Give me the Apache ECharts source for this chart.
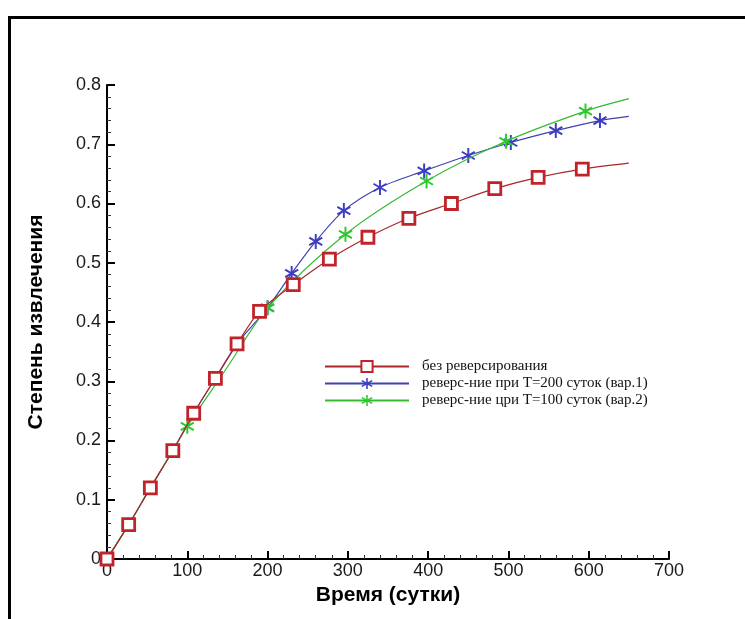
<!DOCTYPE html>
<html lang="ru">

<head>
    <meta charset="utf-8">
    <title>Степень извлечения</title>
    <style>
        html, body {
            margin: 0;
            padding: 0;
            background-color: #ffffff;
        }
    </style>
</head>

<body>
    <div id="main" style="width: 745px;height:619px;"></div>
    <script src="https://cdn.jsdelivr.net/npm/echarts@6/dist/echarts.min.js"></script>

    <script>
        // без реверсирования
        var redDays = [0, 27, 54, 82, 108, 135, 162, 190, 232, 277, 325, 376, 429, 483, 537, 592, 650];
        var redVals = [0, 0.058, 0.120, 0.183, 0.246, 0.305, 0.363, 0.418, 0.463, 0.506, 0.543, 0.575, 0.600, 0.625, 0.644, 0.658, 0.668];
        var redMark = [1, 1, 1, 1, 1, 1, 1, 1, 1, 1, 1, 1, 1, 1, 1, 1, 0];

        // реверс-ние при T=200 суток (вар.1)
        var blueDays = [0, 27, 54, 82, 108, 135, 162, 200, 230, 260, 295, 340, 395, 450, 503, 559, 614, 650];
        var blueVals = [0, 0.058, 0.120, 0.183, 0.246, 0.305, 0.363, 0.424, 0.482, 0.536, 0.588, 0.627, 0.655, 0.681, 0.703, 0.723, 0.740, 0.747];
        var blueMark = [0, 0, 0, 0, 0, 0, 0, 1, 1, 1, 1, 1, 1, 1, 1, 1, 1, 0];

        // реверс-ние при T=100 суток (вар.2)
        var greenDays = [0, 27, 54, 82, 100, 150, 200, 297, 398, 497, 596, 650];
        var greenVals = [0, 0.058, 0.120, 0.183, 0.224, 0.324, 0.424, 0.548, 0.638, 0.705, 0.756, 0.777];
        var greenMark = [0, 0, 0, 0, 1, 0, 1, 1, 1, 1, 1, 0];

        var xTicks = [0, 100, 200, 300, 400, 500, 600, 700];
        var yTicks = [0, 0.1, 0.2, 0.3, 0.4, 0.5, 0.6, 0.7, 0.8];

        // asterisk made of three thin bars
        var star = 'path://M8.7,20L11.3,20L11.3,0L8.7,0Z' +
            'M18.01,16.13L19.31,13.87L1.99,3.87L0.69,6.13Z' +
            'M0.69,13.87L1.99,16.13L19.31,6.13L18.01,3.87Z';

        function build(days, vals, marks) {
            return days.map(function (d, i) {
                var item = { value: [d, vals[i]] };
                if (!marks[i]) item.symbol = 'none';
                return item;
            });
        }

        var myChart = echarts.init(document.getElementById('main'));

        var axisFont = {
            color: '#1a1a1a',
            fontFamily: 'Liberation Sans',
            fontSize: 18
        };
        var titleFont = {
            fontFamily: 'Liberation Sans',
            fontWeight: 'bold',
            fontSize: 21,
            color: '#000'
        };

        option = {
            backgroundColor: '#ffffff',
            animation: false,
            graphic: [{
                type: 'rect',
                shape: { x: 9.5, y: 17.5, width: 800, height: 700 },
                style: { fill: 'none', stroke: '#000', lineWidth: 3 },
                z: -10
            }],
            legend: {
                orient: 'vertical',
                left: 319,
                top: 354,
                itemWidth: 84,
                itemHeight: 14,
                itemGap: 2,
                textStyle: {
                    fontFamily: 'Liberation Serif',
                    fontSize: 15,
                    color: '#111',
                    padding: [0, 0, 0, 8]
                },
                data: ['без реверсирования', 'реверс-ние при T=200 суток (вар.1)', 'реверс-ние цри T=100 суток (вар.2)']
            },
            grid: {
                left: 107,
                right: 76,
                top: 85,
                bottom: 60,
                containLabel: false
            },
            xAxis: {
                type: 'value',
                min: 0,
                max: 700,
                interval: 100,
                name: 'Время (сутки)',
                nameLocation: 'middle',
                nameGap: 26,
                nameTextStyle: titleFont,
                axisLine: { onZero: false, lineStyle: { color: '#000', width: 2 } },
                axisTick: { inside: true, length: 8, lineStyle: { color: '#000', width: 2 } },
                minorTick: { show: true, splitNumber: 5, length: 4, lineStyle: { color: '#333', width: 1 } },
                splitLine: { show: false },
                axisLabel: Object.assign({ margin: 3 }, axisFont)
            },
            yAxis: {
                type: 'value',
                min: 0,
                max: 0.8,
                interval: 0.1,
                name: 'Степень извлечения',
                nameLocation: 'middle',
                nameGap: 60,
                nameTextStyle: titleFont,
                axisLine: { show: true, onZero: false, lineStyle: { color: '#000', width: 2 } },
                axisTick: { show: true, inside: true, length: 8, lineStyle: { color: '#000', width: 2 } },
                minorTick: { show: true, splitNumber: 5, length: 4, lineStyle: { color: '#333', width: 1 } },
                splitLine: { show: false },
                axisLabel: Object.assign({
                    margin: 6,
                    formatter: function (v) {
                        var r = Math.round(v * 10) / 10;
                        return yTicks.indexOf(r) >= 0 ? String(r) : '';
                    }
                }, axisFont)
            },
            series: [{
                    name: 'реверс-ние при T=200 суток (вар.1)',
                    type: 'line',
                    smooth: 0.3,
                    symbol: star,
                    symbolSize: 15,
                    symbolKeepAspect: true,
                    itemStyle: { color: '#3d3dc4' },
                    lineStyle: { color: '#4040b0', width: 1.2 },
                    data: build(blueDays, blueVals, blueMark),
                    z: 2
                },
                {
                    name: 'реверс-ние цри T=100 суток (вар.2)',
                    type: 'line',
                    smooth: 0.3,
                    symbol: star,
                    symbolSize: 15,
                    symbolKeepAspect: true,
                    itemStyle: { color: '#2ec82e' },
                    lineStyle: { color: '#33bb33', width: 1.2 },
                    data: build(greenDays, greenVals, greenMark),
                    z: 3
                },
                {
                    name: 'без реверсирования',
                    type: 'line',
                    smooth: 0.3,
                    symbol: 'rect',
                    symbolSize: 12,
                    itemStyle: { color: '#ffffff', borderColor: '#c0232a', borderWidth: 2.8 },
                    lineStyle: { color: '#a82828', width: 1.2 },
                    data: build(redDays, redVals, redMark),
                    z: 4
                }
            ]
        };

        myChart.setOption(option);
    </script>


</body>

</html>
